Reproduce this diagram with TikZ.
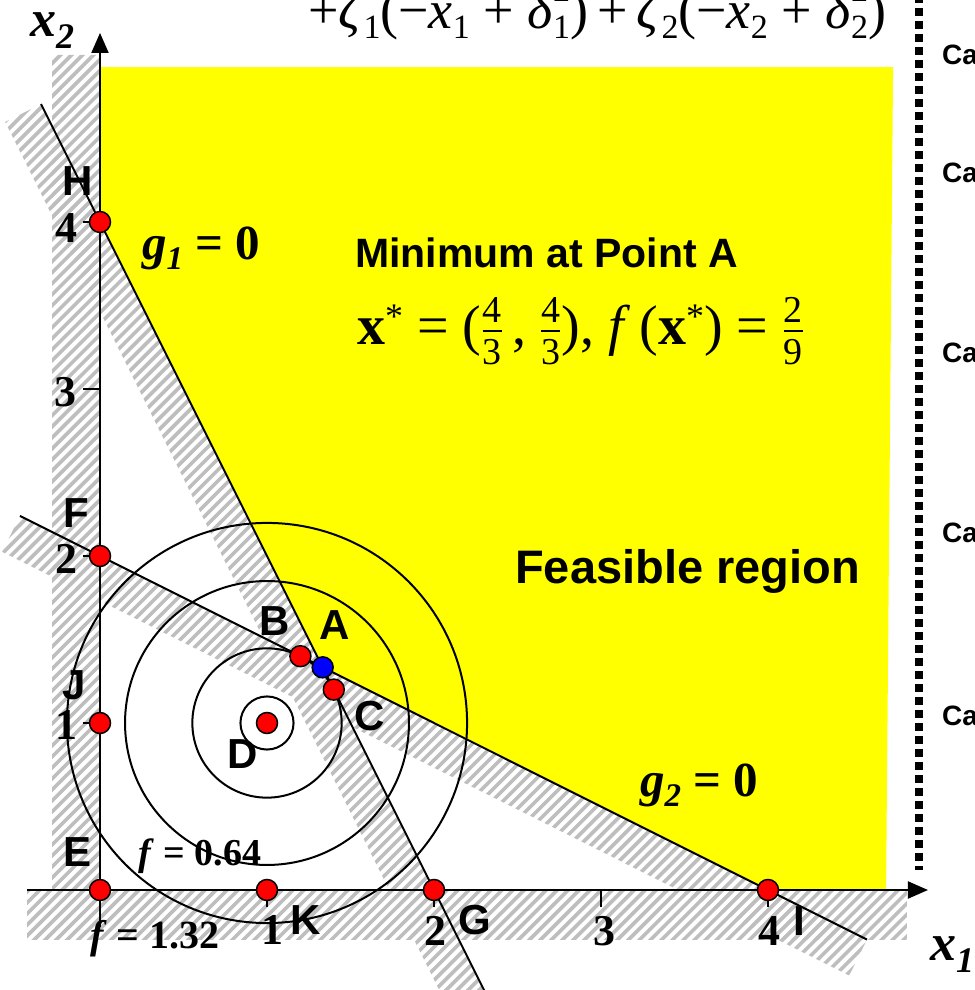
\RequirePackage{fix-cm}
\documentclass[tikz,border=0pt]{standalone}
\usepackage{fontspec}
\setmainfont{Liberation Serif}
\newfontfamily\arialf{Liberation Sans}
\usetikzlibrary{arrows.meta}
\definecolor{yel}{RGB}{255,255,0}
\definecolor{hatchgray}{RGB}{190,190,190}
\newcommand\lowr[3]{\raisebox{-#2}{\fontsize{#1}{#1}\selectfont #3}}
\newcommand\highr[3]{\raisebox{#2}{\fontsize{#1}{#1}\selectfont #3}}
\newcommand\lowhigh[2]{\rlap{\lowr{34}{10pt}{#1}}\highr{34}{27pt}{#2}}
\newcommand\myfr[2]{${\hbox{\fontsize{38}{38}\selectfont #1}\above 1.5pt\hbox{\fontsize{38}{38}\selectfont #2}}$}
\tikzset{
 ax/.style={line width=2pt},
 gline/.style={line width=2pt},
 circ/.style={line width=2pt},
 hatchline/.style={line width=3.6pt, hatchgray},
 rdot/.style={circle, fill=red, draw=black, line width=1.5pt, minimum size=21pt, inner sep=0pt},
 bdot/.style={rdot, fill=blue},
 lab/.style={font=\arialf\bfseries\fontsize{42}{42}\selectfont, inner sep=0pt},
 num/.style={font=\bfseries\fontsize{44}{44}\selectfont, inner sep=0pt},
 caselab/.style={font=\arialf\bfseries\fontsize{28}{28}\selectfont, inner sep=0pt, anchor=west},
 txt/.style={inner sep=0pt, anchor=base west},
}
\begin{document}
\begin{tikzpicture}[x=167pt,y=167pt]
\useasboundingbox (-100pt,-100pt) rectangle (874pt,890pt);
% feasible region
\fill[yel] (0,4) -- (4/3,4/3) -- (4,0) -- (4.707,0) -- (4.749,4.928) -- (0,4.928) -- cycle;
% hatched bands
\begin{scope}
\clip (-0.287,5.0) -- (0,5.0) -- (0,0) -- (4.832,0) -- (4.832,-0.299) -- (-0.437,-0.299) -- (-0.437,0) -- (-0.287,0) -- cycle;
\foreach \k in {0,...,200} \draw[hatchline] ({\k*0.0659-6.5},-1) -- ++(7,7);
\end{scope}
\begin{scope}
\clip (-0.353,4.706) -- (2.40,-0.80) -- (2.185,-0.907) -- (-0.568,4.599) -- cycle;
\foreach \k in {0,...,200} \draw[hatchline] ({\k*0.0659-6.5},-1) -- ++(7,7);
\end{scope}
\begin{scope}
\clip (-0.479,2.240) -- (4.593,-0.297) -- (4.486,-0.512) -- (-0.586,2.025) -- cycle;
\foreach \k in {0,...,200} \draw[hatchline] ({\k*0.0659-6.5},-1) -- ++(7,7);
\end{scope}
% contours
\coordinate (Dc) at (1,1);
\draw[circ] (Dc) circle[radius=0.159];
\draw[circ] (Dc) circle[radius=0.447];
\draw[circ] (Dc) circle[radius=0.850];
\draw[circ] (Dc) circle[radius=1.198];
% constraint lines
\coordinate (g1a) at (-0.353,4.706);
\coordinate (g1b) at (2.40,-0.80);
\coordinate (g2a) at (-0.479,2.240);
\coordinate (g2b) at (4.593,-0.297);
\draw[gline] (g1a) -- (g1b);
\draw[gline] (g2a) -- (g2b);
% axes
\coordinate (xl) at (-0.437,0);
\coordinate (xr) at (4.958,0);
\coordinate (yb) at (0,-0.22);
\coordinate (yt) at (0,5.132);
\draw[ax,-{Triangle[length=20pt,width=17pt]}] (xl) -- (xr);
\draw[ax,-{Triangle[length=20pt,width=17pt]}] (yb) -- (yt);
\foreach \i in {1,2,3,4} {
  \draw[ax] (0,\i) -- ++(-17pt,0);
  \draw[ax] (\i,0) -- ++(0,-17pt);
}
% points
\node[rdot] (H) at (0,4) {};
\node[rdot] (F) at (0,2) {};
\node[rdot] (J) at (0,1) {};
\node[rdot] (E) at (0,0) {};
\node[rdot] (K) at (1,0) {};
\node[rdot] (G) at (2,0) {};
\node[rdot] (I) at (4,0) {};
\node[rdot] (B) at (1.2,1.4) {};
\node[rdot] (C) at (1.4,1.2) {};
\node[rdot] (D) at (1,1) {};
\node[bdot] (A) at (4/3,4/3) {};
% point labels
\node[lab] (Hl) at (-22pt,709pt) {H};
\node[lab] (Fl) at (-24pt,377pt) {F};
\node[lab] (Jl) at (-26pt,205pt) {J};
\node[lab] (El) at (-22pt,38pt) {E};
\node[lab] (Kl) at (206pt,-30pt) {K};
\node[lab] (Gl) at (375pt,-30pt) {G};
\node[lab] (Il) at (699pt,-31pt) {I};
\node[lab] (Bl) at (175pt,269pt) {B};
\node[lab] (Al) at (235pt,265pt) {A};
\node[lab] (Cl) at (270pt,174pt) {C};
\node[lab] (Dl) at (143pt,136pt) {D};
% tick numbers
\node[num] (n1x) at (172pt,-40pt) {1};
\node[num] (n2x) at (335pt,-41pt) {2};
\node[num] (n3x) at (504pt,-41pt) {3};
\node[num] (n4x) at (669pt,-41pt) {4};
\node[num] (n4y) at (-33pt,662pt) {4};
\node[num] (n3y) at (-34pt,498pt) {3};
\node[num] (n2y) at (-33pt,331pt) {2};
\node[num] (n1y) at (-33pt,165pt) {1};
% contour labels
\node[txt, font=\bfseries\fontsize{38}{38}\selectfont] (f064) at (38pt,24pt) {\textit{f} = 0.64};
\node[txt, font=\bfseries\fontsize{40}{40}\selectfont] (f132) at (-10pt,-58pt) {\textit{f} = 1.32};
% constraint labels
\node[txt, font=\bfseries\fontsize{49}{49}\selectfont] (g1l) at (42pt,630pt) {\textit{g}\lowr{33}{10pt}{\textit{1}} = 0};
\node[txt, font=\bfseries\fontsize{49}{49}\selectfont] (g2l) at (540pt,93pt) {\textit{g}\lowr{33}{10pt}{\textit{2}} = 0};
% axis labels
\node[txt, font=\bfseries\itshape\fontsize{52}{52}\selectfont] (x2l) at (-70pt,853pt) {x\lowr{36}{12pt}{2}};
\node[txt, font=\bfseries\itshape\fontsize{52}{52}\selectfont] (x1l) at (830pt,-70pt) {x\lowr{36}{12pt}{1}};
% texts
\node[txt, font=\arialf\bfseries\fontsize{41}{41}\selectfont] (minl) at (255pt,622pt) {Minimum at Point A};
\node[txt, font=\arialf\bfseries\fontsize{47}{47}\selectfont] (feas) at (415pt,306pt) {Feasible region};
\node[txt, font=\fontsize{56}{56}\selectfont] (xstar) at (257pt,545pt) {\textbf{x}\highr{36}{16pt}{*} = (\myfr{4}{3}\,, \myfr{4}{3}), \textit{f}\,(\textbf{x}\highr{36}{16pt}{*}) = \myfr{2}{9}};
\node[txt, font=\fontsize{54}{54}\selectfont] (topf) at (208pt,861pt) {+\textit{ζ}\lowr{34}{10pt}{1}(−\textit{x}\lowr{34}{10pt}{1} + \textit{δ}\lowhigh{1}{2})\,+\,\textit{ζ}\lowr{34}{10pt}{2}(−\textit{x}\lowr{34}{10pt}{2} + \textit{δ}\lowhigh{2}{2})};
% dotted separator and case labels
\coordinate (dt) at (819pt,895pt);
\coordinate (db) at (819pt,20pt);
\draw[line width=8pt, dash pattern=on 8pt off 5pt] (dt) -- (db);
\node[caselab] (c1) at (842pt,835pt) {Ca};
\node[caselab] (c2) at (842pt,717pt) {Ca};
\node[caselab] (c3) at (842pt,537pt) {Ca};
\node[caselab] (c4) at (842pt,357pt) {Ca};
\node[caselab] (c5) at (842pt,174pt) {Ca};
\end{tikzpicture}
\end{document}
